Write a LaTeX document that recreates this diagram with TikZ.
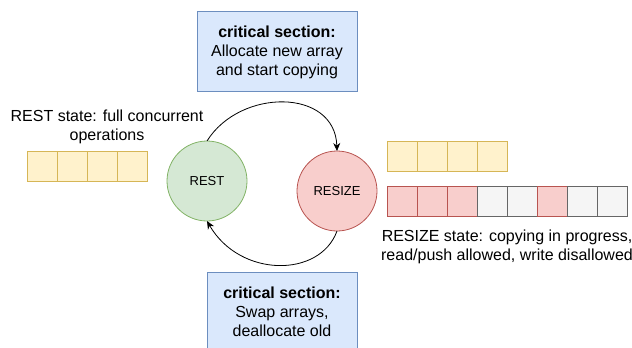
\documentclass[tikz,border=0pt]{standalone}
\usepackage{fontspec}
\setmainfont{Liberation Sans}
\usetikzlibrary{arrows.meta}
\definecolor{gfill}{HTML}{D5E8D4}
\definecolor{gline}{HTML}{82B366}
\definecolor{rfill}{HTML}{F8CECC}
\definecolor{rline}{HTML}{B85450}
\definecolor{yfill}{HTML}{FFF2CC}
\definecolor{yline}{HTML}{D6B656}
\definecolor{bfill}{HTML}{DAE8FC}
\definecolor{bline}{HTML}{6C8EBF}
\definecolor{kfill}{HTML}{F5F5F5}
\definecolor{kline}{HTML}{666666}
\begin{document}
\begin{tikzpicture}[x=1bp,y=-1bp,
  cell/.style={draw, line width=0.8bp, minimum width=30bp, minimum height=30bp, inner sep=0pt, outer sep=0pt},
  ycell/.style={cell, fill=yfill, draw=yline},
  rcell/.style={cell, fill=rfill, draw=rline},
  kcell/.style={cell, fill=kfill, draw=kline},
  state/.style={circle, line width=0.8bp, minimum size=80bp, inner sep=0pt, outer sep=0pt, font=\fontsize{13bp}{15bp}\selectfont},
  crit/.style={draw=bline, fill=bfill, line width=0.8bp, inner sep=0pt, outer sep=0pt},
  txt/.style={align=center, inner sep=0pt, font=\fontsize{16bp}{19bp}\selectfont},
  arc/.style={draw=black, line width=0.8bp, -{Stealth[length=8bp,width=7bp,inset=2.5bp]}}
]
\useasboundingbox (0,0) rectangle (632,347);
\clip (0,0) rectangle (632,347);
% critical section boxes
\node[crit, minimum width=160bp, minimum height=80bp] (topbox) at (277,51) {};
\node[txt] (toptxt) at (277,52) {\textbf{critical section:}\\Allocate new array\\and start copying};
\node[crit, minimum width=150bp, minimum height=80bp] (botbox) at (282,312) {};
\node[txt] (bottxt) at (282,312) {\textbf{critical section:}\\Swap arrays,\\deallocate old};
% states
\node[state, draw=gline, fill=gfill] (rest) at (207,181) {REST};
\node[state, draw=rline, fill=rfill] (resize) at (337,191) {RESIZE};
\draw[arc] (rest.north) .. controls (240,88) and (335,88) .. (resize.north);
\draw[arc] (resize.south) .. controls (320,278) and (240,278) .. (rest.south);
% left array
\node[txt] (resttxt) at (107,127) {REST state: full concurrent\\operations};
\foreach \i in {0,...,3} \node[ycell] (L\i) at (42+30*\i,166) {};
% right arrays
\foreach \i in {0,...,3} \node[ycell] (Y\i) at (402+30*\i,156.5) {};
\foreach \i/\s in {0/rcell,1/rcell,2/rcell,3/kcell,4/kcell,5/rcell,6/kcell,7/kcell} \node[\s] (N\i) at (402+30*\i,201.5) {};
\node[txt] (resizetxt) at (507,247) {RESIZE state: copying in progress,\\read/push allowed, write disallowed};
\end{tikzpicture}
\end{document}
